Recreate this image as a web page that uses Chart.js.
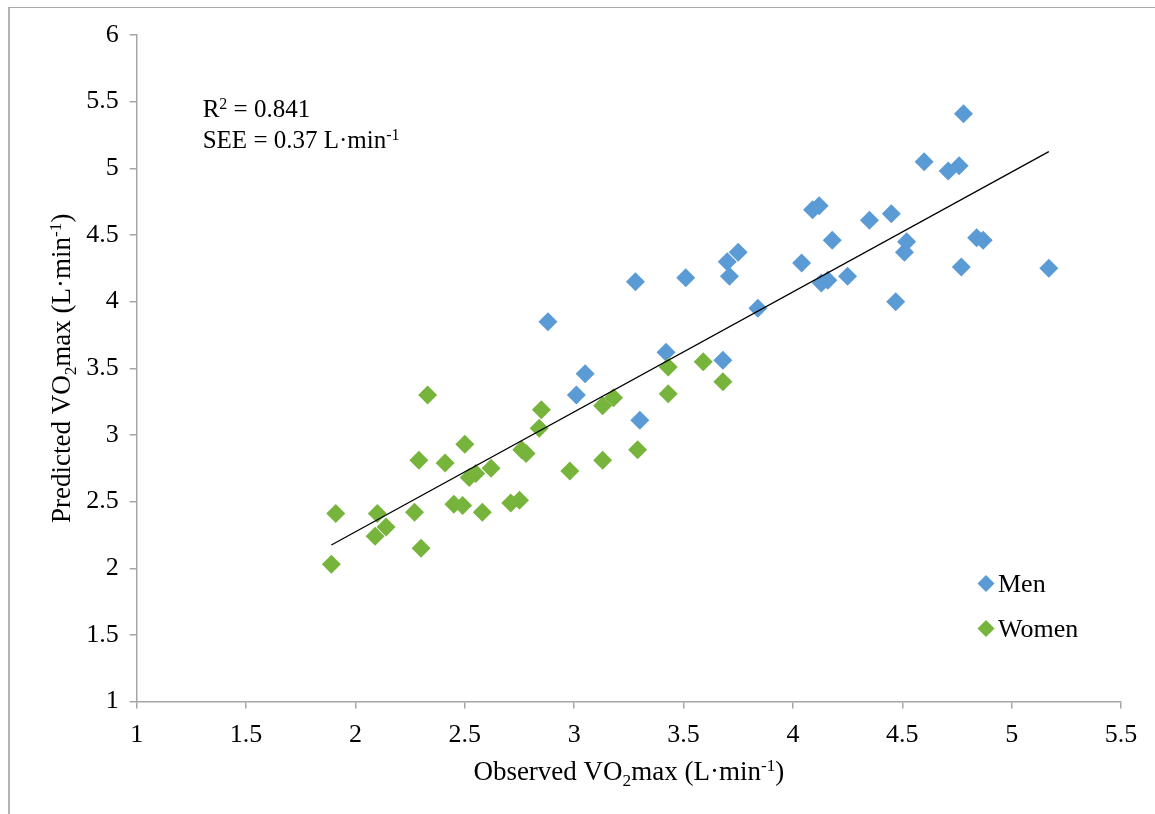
<!DOCTYPE html>
<html>
<head>
<meta charset="utf-8">
<title>Observed vs predicted VO2max</title>
<script src="https://cdn.jsdelivr.net/npm/chart.js@4.4.1/dist/chart.umd.min.js"></script>
<style>
  html, body { margin: 0; padding: 0; background: #fff; }
  #wrap { position: relative; width: 1155px; height: 814px; overflow: hidden; }
  #frame { position: absolute; left: 8px; top: 7px; right: -10px; bottom: -10px;
           border-left: 2px solid #b4b4b4; border-top: 1px solid #a9a9a9; }
  #c { position: absolute; left: 0; top: 0; }
</style>
</head>
<body>
<div id="wrap">
  <div id="frame"></div>
  <canvas id="c" width="1155" height="814"></canvas>
</div>
<script>
// ---- data ----
const seriesNames = ['Men', 'Women'];

const menX = [2.88, 3.01, 3.05, 3.28, 3.30, 3.42, 3.51, 3.68, 3.70, 3.71, 3.75, 3.84, 4.04, 4.09, 4.12, 4.13,
              4.16, 4.18, 4.25, 4.35, 4.45, 4.47, 4.51, 4.52, 4.60, 4.71, 4.76, 4.77, 4.78, 4.84, 4.87, 5.17];
const menY = [3.85, 3.30, 3.46, 4.15, 3.11, 3.62, 4.18, 3.56, 4.30, 4.19, 4.37, 3.95, 4.29, 4.69, 4.72, 4.14,
              4.16, 4.46, 4.19, 4.61, 4.66, 4.00, 4.37, 4.45, 5.05, 4.98, 5.02, 4.26, 5.41, 4.48, 4.46, 4.25];

const womenX = [1.89, 1.91, 2.09, 2.10, 2.14, 2.27, 2.29, 2.30, 2.33, 2.41, 2.45, 2.49, 2.50, 2.52, 2.55, 2.58,
                2.62, 2.71, 2.75, 2.76, 2.78, 2.84, 2.85, 2.98, 3.13, 3.13, 3.18, 3.29, 3.43, 3.43, 3.59, 3.68];
const womenY = [2.03, 2.41, 2.24, 2.41, 2.31, 2.42, 2.81, 2.15, 3.30, 2.79, 2.48, 2.47, 2.93, 2.68, 2.71, 2.42,
                2.75, 2.49, 2.51, 2.89, 2.86, 3.05, 3.19, 2.73, 3.22, 2.81, 3.28, 2.89, 3.51, 3.31, 3.55, 3.40];

// linear trend line through all participants (end points)
const trendX = [1.89, 5.17];
const trendY = [2.175, 5.125];

const xTickValues = [1, 1.5, 2, 2.5, 3, 3.5, 4, 4.5, 5, 5.5];
const xTickLabels = ['1', '1.5', '2', '2.5', '3', '3.5', '4', '4.5', '5', '5.5'];
const yTickValues = [1, 1.5, 2, 2.5, 3, 3.5, 4, 4.5, 5, 5.5, 6];
const yTickLabels = ['1', '1.5', '2', '2.5', '3', '3.5', '4', '4.5', '5', '5.5', '6'];

// text runs: [text, 'sub' | 'sup' | undefined]
const xTitle = [['Observed VO'], ['2', 'sub'], ['max (L\u00B7min'], ['-1', 'sup'], [')']];
const yTitle = [['Predicted VO'], ['2', 'sub'], ['max (L\u00B7min'], ['-1', 'sup'], [')']];
const statLines = [
  [['R'], ['2', 'sup'], [' = 0.841']],
  [['SEE = 0.37 L\u00B7min'], ['-1', 'sup']]
];

const colors = { men: '#5B9BD5', women: '#77B43B', axis: '#a6a6a6', text: '#000000' };
const FAMILY = 'Liberation Serif';

Chart.defaults.font.family = FAMILY;
Chart.defaults.font.size = 26;
Chart.defaults.color = colors.text;

const toPoints = (xs, ys) => xs.map((x, i) => ({ x: x, y: ys[i] }));

// ---- rich text helper (sub/superscripts) ----
function drawRich(ctx, runs, x, y, size, align) {
  const parts = runs.map(([t, kind]) => {
    const s = kind ? size * 0.64 : size;
    ctx.font = s + 'px ' + FAMILY;
    return { t, kind, s, w: ctx.measureText(t).width };
  });
  const total = parts.reduce((a, p) => a + p.w, 0);
  let cx = align === 'center' ? x - total / 2 : x;
  ctx.textAlign = 'left';
  ctx.textBaseline = 'alphabetic';
  for (const p of parts) {
    ctx.font = p.s + 'px ' + FAMILY;
    const dy = p.kind === 'sup' ? -size * 0.34 : p.kind === 'sub' ? size * 0.22 : 0;
    ctx.fillText(p.t, cx, y + dy);
    cx += p.w;
  }
}

const textPlugin = {
  id: 'richText',
  afterDraw(chart) {
    const { ctx, chartArea: a } = chart;
    ctx.save();
    ctx.fillStyle = colors.text;

    // axis titles
    drawRich(ctx, xTitle, (a.left + a.right) / 2, 780, 27, 'center');
    ctx.save();
    ctx.translate(70, (a.top + a.bottom) / 2);
    ctx.rotate(-Math.PI / 2);
    drawRich(ctx, yTitle, 0, 0, 27, 'center');
    ctx.restore();

    // fit statistics
    statLines.forEach((line, i) => drawRich(ctx, line, a.left + 66, a.top + 82 + i * 31, 25, 'left'));

    // legend, in series order
    seriesNames.forEach((name, i) => {
      const d = chart.data.datasets.find(ds => ds.label === name);
      const mx = a.right - 135, my = a.bottom - 118 + i * 45, r = 8.5;
      ctx.fillStyle = d.backgroundColor;
      ctx.beginPath();
      ctx.moveTo(mx - r, my); ctx.lineTo(mx, my - r); ctx.lineTo(mx + r, my); ctx.lineTo(mx, my + r);
      ctx.closePath();
      ctx.fill();
      ctx.fillStyle = colors.text;
      ctx.font = '26px ' + FAMILY;
      ctx.textAlign = 'left';
      ctx.textBaseline = 'alphabetic';
      ctx.fillText(d.label, mx + 12, my + 8);
    });
    ctx.restore();
  }
};

const tickFont = { family: FAMILY, size: 26 };

const axisCommon = {
  type: 'linear',
  grid: { display: true, drawOnChartArea: false, drawTicks: true, tickLength: 7, color: colors.axis, lineWidth: 1.5 },
  border: { display: true, color: colors.axis, width: 1.5 }
};

new Chart(document.getElementById('c'), {
  type: 'scatter',
  data: {
    datasets: [
      {
        label: 'Trend',
        type: 'line',
        data: toPoints(trendX, trendY),
        borderColor: '#000',
        borderWidth: 1.3,
        pointRadius: 0,
        fill: false,
        order: 0
      },
      {
        label: seriesNames[1],
        data: toPoints(womenX, womenY),
        backgroundColor: colors.women,
        borderWidth: 0,
        pointStyle: 'rectRot',
        pointRadius: 9.5,
        order: 1
      },
      {
        label: seriesNames[0],
        data: toPoints(menX, menY),
        backgroundColor: colors.men,
        borderWidth: 0,
        pointStyle: 'rectRot',
        pointRadius: 9.5,
        order: 2
      }
    ]
  },
  options: {
    responsive: false,
    animation: false,
    devicePixelRatio: 1,
    layout: { padding: { left: 36.7, right: 34, top: 35, bottom: 52.4 } },
    plugins: { legend: { display: false }, tooltip: { enabled: false } },
    scales: {
      x: Object.assign({}, axisCommon, {
        min: 1, max: 5.5,
        afterBuildTicks: s => { s.ticks = xTickValues.map(v => ({ value: v })); },
        afterFit: s => { s.height = 60; },
        ticks: {
          callback: (v, i) => xTickLabels[i],
          font: tickFont, color: colors.text,
          padding: 11, maxRotation: 0, autoSkip: false
        }
      }),
      y: Object.assign({}, axisCommon, {
        min: 1, max: 6,
        afterBuildTicks: s => { s.ticks = yTickValues.map(v => ({ value: v })); },
        afterFit: s => { s.width = 100; },
        ticks: {
          callback: (v, i) => yTickLabels[i],
          font: tickFont, color: colors.text,
          padding: 11, autoSkip: false
        }
      })
    }
  },
  plugins: [textPlugin]
});
</script>
</body>
</html>
